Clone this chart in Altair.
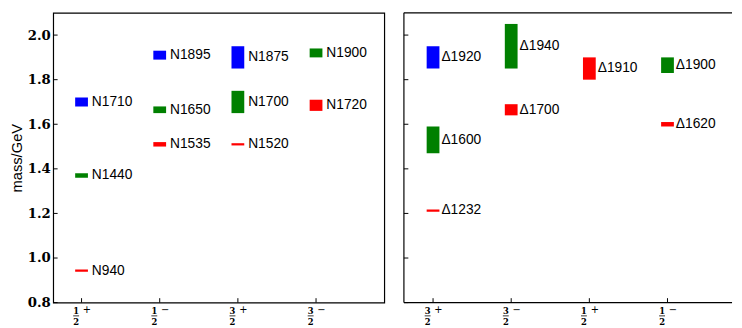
import altair as alt
import pandas as pd

# ---------------- data ----------------
# Nucleon panel
N_label = [" N940", "N1440", "N1710", "N1535", "N1650", "N1895",
           "N1520", "N1700", "N1875", "N1720", "N1900"]
N_col = [0, 0, 0, 1, 1, 1, 2, 2, 2, 3, 3]
N_lo = [0.938, 1.36, 1.68, 1.50, 1.65, 1.89, 1.505, 1.65, 1.85, 1.66, 1.90]
N_hi = [0.948, 1.38, 1.72, 1.52, 1.68, 1.93, 1.515, 1.75, 1.95, 1.71, 1.94]
N_grp = ["r", "g", "b", "r", "g", "b", "r", "g", "b", "r", "g"]
N_num = ["1", "1", "3", "3"]
N_sign = ["+", "\u2212", "+", "\u2212"]

# Delta panel
D_label = ["\u03941232", "\u03941600", "\u03941920", "\u03941700", "\u03941940",
           "\u03941910", "\u03941900", "\u03941620"]
D_col = [0, 0, 0, 1, 1, 2, 3, 3]
D_lo = [1.208, 1.47, 1.85, 1.64, 1.85, 1.80, 1.83, 1.59]
D_hi = [1.218, 1.59, 1.95, 1.69, 2.05, 1.90, 1.90, 1.61]
D_grp = ["r", "g", "b", "r", "g", "r", "g", "r"]
D_num = ["3", "3", "1", "1"]
D_sign = ["+", "\u2212", "+", "\u2212"]

Y_TICKS = [0.8, 1.0, 1.2, 1.4, 1.6, 1.8, 2.0]
GROUPS = ["r", "g", "b"]
COLORS = ["#ff0000", "#008000", "#0000ff"]

H = 295
W_LEFT = 337
W_RIGHT = 334
Y_DOM = [0.8, 2.1]


def panel(labels, cols, los, his, grps, nums, signs, width, xdom, left_axis, label_dx):
    df = pd.DataFrame({"label": labels, "pos": cols, "lo": los, "hi": his, "grp": grps})
    df["mid"] = (df["lo"] + df["hi"]) / 2
    cats = pd.DataFrame({"pos": list(range(len(nums))), "num": nums, "sign": signs, "den": ["2"] * len(nums)})
    ticks = pd.DataFrame({"v": Y_TICKS})

    xs = alt.Scale(domain=xdom, nice=False, zero=False)
    ys = alt.Scale(domain=Y_DOM, nice=False, zero=False)
    if left_axis:
        yax = alt.Axis(values=Y_TICKS, format=".1f", labelFont="DejaVu Serif",
                       labelFontWeight="bold", labelFontSize=13.5, labelColor="black",
                       ticks=False, tickSize=0, domain=False, grid=False, labelPadding=3,
                       title="mass/GeV", titleFont="Liberation Sans", titleFontSize=15,
                       titleFontWeight="normal", titleColor="black", titlePadding=3)
    else:
        yax = None

    bars = alt.Chart(df).mark_bar(width=13).encode(
        x=alt.X("pos:Q", scale=xs, axis=None),
        y=alt.Y("lo:Q", scale=ys, axis=yax),
        y2="hi:Q",
        color=alt.Color("grp:N", scale=alt.Scale(domain=GROUPS, range=COLORS), legend=None),
    )
    text = alt.Chart(df).mark_text(align="left", baseline="middle", dx=label_dx,
                                   font="Liberation Sans", fontSize=14, color="black").encode(
        x=alt.X("pos:Q", scale=xs, axis=None),
        y=alt.Y("mid:Q", scale=ys, axis=yax),
        text="label:N",
    )
    ytick = alt.Chart(ticks).mark_rule(color="black", strokeWidth=1).encode(
        y=alt.Y("v:Q", scale=ys, axis=yax),
        x=alt.value(0), x2=alt.value(4.5),
    )
    xtick = alt.Chart(cats).mark_rule(color="black", strokeWidth=1).encode(
        x=alt.X("pos:Q", scale=xs, axis=None),
        y=alt.value(H), y2=alt.value(H - 4.5),
    )
    num = alt.Chart(cats).mark_text(align="center", baseline="middle", dx=-5.5,
                                    font="DejaVu Serif", fontWeight="bold", fontSize=8.5,
                                    color="black").encode(
        x=alt.X("pos:Q", scale=xs, axis=None), y=alt.value(H + 9), text="num:N")
    fbar = alt.Chart(cats).mark_rule(color="black", strokeWidth=0.8,
                                     xOffset=-8.5, x2Offset=-2.5).encode(
        x=alt.X("pos:Q", scale=xs, axis=None), x2="pos:Q", y=alt.value(H + 13.5))
    den = alt.Chart(cats).mark_text(align="center", baseline="middle", dx=-5.5,
                                    font="DejaVu Serif", fontWeight="bold", fontSize=8.5,
                                    color="black").encode(
        x=alt.X("pos:Q", scale=xs, axis=None), y=alt.value(H + 19.5), text="den:N")
    sign = alt.Chart(cats).mark_text(align="center", baseline="middle", dx=5.5,
                                     font="DejaVu Sans", fontSize=10, color="black").encode(
        x=alt.X("pos:Q", scale=xs, axis=None), y=alt.value(H + 7.5), text="sign:N")

    layers = [bars, text, ytick, xtick, num, fbar, den, sign]
    if not left_axis:
        one = pd.DataFrame({"a": [0]})
        top = alt.Chart(one).mark_rule(color="black", strokeWidth=1.2).encode(
            x=alt.value(0), x2=alt.value(width), y=alt.value(0))
        bot = alt.Chart(one).mark_rule(color="black", strokeWidth=1.2).encode(
            x=alt.value(0), x2=alt.value(width), y=alt.value(H))
        lft = alt.Chart(one).mark_rule(color="black", strokeWidth=1.2).encode(
            x=alt.value(0), y=alt.value(0), y2=alt.value(H))
        layers += [top, bot, lft]
    ch = alt.layer(*layers).properties(width=width, height=H)
    if not left_axis:
        ch = ch.properties(view=alt.ViewBackground(stroke="transparent"))
    return ch


left = panel(N_label, N_col, N_lo, N_hi, N_grp, N_num, N_sign, W_LEFT, [-0.3, 3.81], True, 10.5)
right = panel(D_label, D_col, D_lo, D_hi, D_grp, D_num, D_sign, W_RIGHT, [-0.31, 3.763], False, 8.5)

chart = alt.hconcat(left, right, spacing=17).properties(
    padding={"left": 0, "top": 0, "right": 0, "bottom": 0},
    background="white",
).configure_view(stroke="black", strokeWidth=1.2)

chart.save("out.html", embed_options={"renderer": "svg", "actions": False})
